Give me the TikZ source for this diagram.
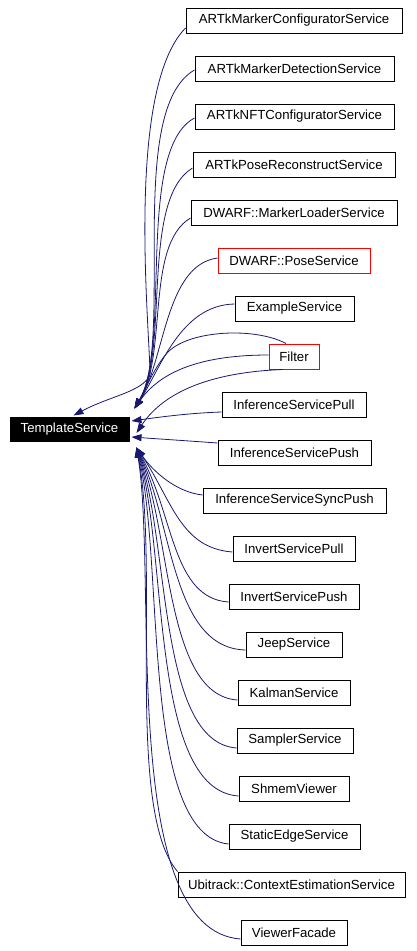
\documentclass[tikz,border=0pt]{standalone}
\usepackage{fontspec}
\setmainfont{Liberation Sans}
\usetikzlibrary{arrows.meta,calc}
\definecolor{edgec}{HTML}{191970}
\begin{document}
\begin{tikzpicture}[x=1pt,y=-1pt,
  box/.style={draw=black, line width=1pt, minimum height=25pt, inner sep=0pt, font=\fontsize{13.2}{15}\selectfont, anchor=center},
  redbox/.style={box, draw=red},
  rootbox/.style={box, fill=black, text=white, minimum height=24pt},
  edge/.style={draw=edgec, line width=0.8pt, -{Triangle[length=10pt,width=7pt]}, fill=none},
]
\useasboundingbox (0,0) rectangle (417,951);
% root
\node[rootbox, minimum width=119pt] (ts) at (69.5,429) {TemplateService};
% children
\node[box, minimum width=216pt] (n1) at (294,20.5) {ARTkMarkerConfiguratorService};
\node[box, minimum width=199pt] (n2) at (294.5,68.5) {ARTkMarkerDetectionService};
\node[box, minimum width=199pt] (n3) at (294.5,116.5) {ARTkNFTConfiguratorService};
\node[box, minimum width=202pt] (n4) at (294,164.5) {ARTkPoseReconstructService};
\node[box, minimum width=206pt] (n5) at (294,212.5) {DWARF::MarkerLoaderService};
\node[redbox, minimum width=152pt] (n6) at (294,260.5) {DWARF::PoseService};
\node[box, minimum width=119pt] (n7) at (294.5,308.5) {ExampleService};
\node[redbox, minimum width=50pt] (n8) at (294,356.5) {Filter};
\node[box, minimum width=144pt] (n9) at (294,404.5) {InferenceServicePull};
\node[box, minimum width=153pt] (n10) at (294.5,452.5) {InferenceServicePush};
\node[box, minimum width=183pt] (n11) at (294.5,500.5) {InferenceServiceSyncPush};
\node[box, minimum width=122pt] (n12) at (294,548.5) {InvertServicePull};
\node[box, minimum width=130pt] (n13) at (294,596.5) {InvertServicePush};
\node[box, minimum width=96pt] (n14) at (294,644.5) {JeepService};
\node[box, minimum width=112pt] (n15) at (294,692.5) {KalmanService};
\node[box, minimum width=116pt] (n16) at (295,740.5) {SamplerService};
\node[box, minimum width=110pt] (n17) at (294,788.5) {ShmemViewer};
\node[box, minimum width=131pt] (n18) at (294.5,836.5) {StaticEdgeService};
\node[box, minimum width=227pt] (n19) at (291.5,884.5) {Ubitrack::ContextEstimationService};
\node[box, minimum width=106pt] (n20) at (294,932.5) {ViewerFacade};
% tip coordinates on the root
\coordinate (tipU) at ($(ts.north east)+(5,-8)$);
\coordinate (tipL) at ($(ts.south east)+(7,6)$);
% upper edges
\draw[edge] ($(n1.west)+(0,7.5)$) .. controls (125,90) and (150,330) .. (150,375)
   .. controls (142,392) and (110,396) .. ($(ts.north)+(4,-1)$);
\draw[edge] ($(n2.west)+(0,1.5)$) .. controls (125,110) and (175,340) .. (tipU);
\draw[edge] ($(n3.west)+(0,1.5)$) .. controls (135,150) and (172,345) .. (tipU);
\draw[edge] ($(n4.west)+(0,3.5)$) .. controls (140,200) and (170,350) .. (tipU);
\draw[edge] ($(n5.west)+(0,5.5)$) .. controls (145,245) and (168,355) .. (tipU);
\draw[edge] ($(n6.west)+(0,-2.5)$) .. controls (165,265) and (165,360) .. (tipU);
\draw[edge] ($(n7.west)+(0,-4.5)$) .. controls (180,305) and (160,370) .. (tipU);
\draw[edge] ($(n8.north)+(-8,0)$) .. controls (255,327) and (190,330) .. (168,352)
   .. controls (155,366) and (145,390) .. (tipU);
\draw[edge] ($(n8.west)+(0,-1.5)$) .. controls (200,355) and (160,372) .. (tipU);
\draw[edge] ($(n8.south)+(-11,0)$) .. controls (215,372) and (165,390) .. ($(ts.east)+(7,4)$);
% middle edges
\draw[edge] ($(n9.west)+(0,7.5)$) .. controls (190,413) and (160,417) .. ($(ts.east)+(2,-8)$);
\draw[edge] ($(n10.west)+(0,-9.5)$) .. controls (190,441) and (160,439) .. ($(ts.east)+(2,8)$);
% lower edges
\draw[edge] ($(n11.west)+(0,-5.5)$) .. controls (175,492) and (152,470) .. (tipL);
\draw[edge] ($(n12.west)+(0,3.5)$) .. controls (180,548) and (172,500) .. (tipL);
\draw[edge] ($(n13.west)+(0,5.5)$) .. controls (172,598) and (174,515) .. (tipL);
\draw[edge] ($(n14.west)+(0,5.5)$) .. controls (172,648) and (173,525) .. (tipL);
\draw[edge] ($(n15.west)+(0,7.5)$) .. controls (165,695) and (172,535) .. (tipL);
\draw[edge] ($(n16.west)+(0,7.5)$) .. controls (158,742) and (170,545) .. (tipL);
\draw[edge] ($(n17.west)+(0,7.5)$) .. controls (150,790) and (168,555) .. (tipL);
\draw[edge] ($(n18.west)+(0,7.5)$) .. controls (140,835) and (165,565) .. (tipL);
\draw[edge] (n19.north west) .. controls (125,810) and (160,570) .. (tipL);
\draw[edge] ($(n20.west)+(0,6.5)$) .. controls (118,930) and (158,580) .. (tipL);
\end{tikzpicture}
\end{document}
